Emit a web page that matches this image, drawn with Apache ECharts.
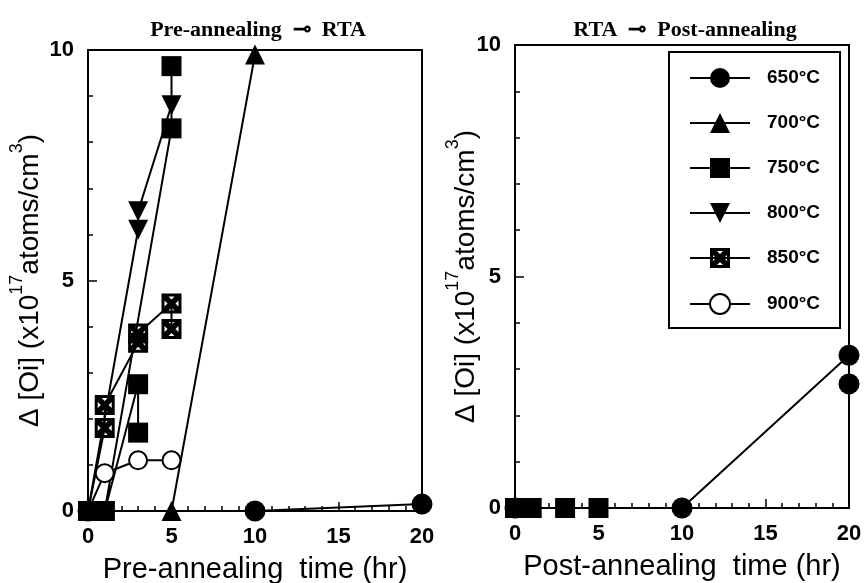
<!DOCTYPE html>
<html>
<head>
<meta charset="utf-8">
<title>Oi reduction vs annealing time</title>
<script src="https://cdn.jsdelivr.net/npm/echarts@6/dist/echarts.min.js"></script>
<style>
    html, body {margin: 0; padding: 0; background: #fff;}
    #main {width: 868px; height: 583px;}
</style>
</head>
<body>
<div id="main"></div>
<script type="text/javascript">
    var temps = ['650°C', '700°C', '750°C', '800°C', '850°C', '900°C'];
    var xTicks = [0, 5, 10, 15, 20];
    var yTicks = [0, 5, 10];

    // pre-annealing -> RTA  [time (hr), dOi (x1e17)]
    var pre650 = [[0, 0], [10, 0], [20, 0.15]];
    var pre700 = [[0, 0], [5, 0], [10, 9.9]];
    var pre750 = [[3, 1.7], [3, 2.75], [1, 0], [0, 0], [1, 0], [5, 8.3], [5, 9.65]];
    var pre800 = [[0, 0], [3, 6.1], [3, 6.5], [5, 8.8]];
    var pre850 = [[0, 0], [1, 1.8], [1, 2.3], [3, 3.65], [3, 3.85], [5, 4.5], [5, 3.95]];
    var pre900 = [[0, 0], [1, 0.82], [3, 1.1], [5, 1.1]];

    // RTA -> post-annealing
    var post650 = [[0, 0], [10, 0], [20, 3.3], [20, 2.68]];
    var post750 = [[0, 0], [0.5, 0], [1, 0], [3, 0], [5, 0]];

    var black = '#000';
    var font = '"Liberation Sans", Arial, sans-serif';
    var serif = '"Liberation Serif", "DejaVu Serif", serif';
    var crossBox = 'path://M0 0L20 0L20 20L0 20Z M3 3L3 17L17 17L17 3Z ' +
        'M3 3L7 3L17 13L17 17L13 17L3 7Z M17 3L17 7L7 17L3 17L3 13L13 3Z';

    var marks = {
        '650°C': {symbol: 'circle', size: 21},
        '700°C': {symbol: 'triangle', size: 20},
        '750°C': {symbol: 'rect', size: 20},
        '800°C': {symbol: 'triangle', size: 20, rotate: 180},
        '850°C': {symbol: crossBox, size: 20},
        '900°C': {symbol: 'emptyCircle', size: 18}
    };

    // the origin point is hidden under the black squares, so no symbol there
    function pts(arr, hideOrigin) {
        return arr.map(function (p) {
            if (hideOrigin && p[0] === 0 && p[1] === 0) {
                return {value: p, symbol: 'none'};
            }
            return p;
        });
    }

    function line(name, data, idx, hideOrigin) {
        var m = marks[name];
        return {
            name: name,
            type: 'line',
            xAxisIndex: idx,
            yAxisIndex: idx,
            data: pts(data, hideOrigin),
            symbol: m.symbol,
            symbolSize: m.size,
            symbolRotate: m.rotate || 0,
            symbolKeepAspect: true,
            color: black,
            lineStyle: {color: black, width: 2},
            itemStyle: {
                color: black,
                borderColor: black,
                borderWidth: m.symbol === 'emptyCircle' ? 2 : 0
            },
            animation: false
        };
    }

    function xAxis(idx, name) {
        return {
            type: 'value', gridIndex: idx,
            min: xTicks[0], max: xTicks[xTicks.length - 1], interval: 5,
            name: name, nameLocation: 'middle', nameGap: 44,
            nameTextStyle: {fontFamily: font, fontSize: 29, color: black},
            axisLine: {lineStyle: {color: black, width: 2}},
            axisTick: {inside: true, length: 9, lineStyle: {color: black, width: 1.5}},
            minorTick: {show: true, splitNumber: 5, length: 5, lineStyle: {color: black, width: 1.5}},
            axisLabel: {fontFamily: font, fontSize: 22, fontWeight: 'bold', color: black, margin: 15},
            splitLine: {show: false}
        };
    }

    function yAxis(idx, gap) {
        return {
            type: 'value', gridIndex: idx,
            min: yTicks[0], max: yTicks[yTicks.length - 1], interval: 5,
            name: '{t|Δ [Oi] (x10}{s|17}{t|atoms/cm}{s|3}{t|)}',
            nameLocation: 'middle', nameGap: gap,
            nameMoveOverlap: false,
            nameTextStyle: {
                rich: {
                    t: {fontFamily: font, fontSize: 28, color: black, lineHeight: 36, verticalAlign: 'bottom'},
                    s: {fontFamily: font, fontSize: 18, color: black, lineHeight: 36, verticalAlign: 'top'}
                }
            },
            axisLine: {lineStyle: {color: black, width: 2}},
            axisTick: {inside: true, length: 9, lineStyle: {color: black, width: 1.5}},
            minorTick: {show: true, splitNumber: 5, length: 5, lineStyle: {color: black, width: 1.5}},
            axisLabel: {fontFamily: font, fontSize: 22, fontWeight: 'bold', color: black, margin: 14},
            splitLine: {show: false}
        };
    }

    var myChart = echarts.init(document.getElementById('main'));
    myChart.setOption({
        backgroundColor: '#fff',
        animation: false,
        title: [
            {text: 'Pre-annealing  ⊸  RTA', left: 253, top: 14, textAlign: 'center',
                textStyle: {fontFamily: serif, fontSize: 22, fontWeight: 'bold', color: black}},
            {text: 'RTA  ⊸  Post-annealing', left: 680, top: 14, textAlign: 'center',
                textStyle: {fontFamily: serif, fontSize: 22, fontWeight: 'bold', color: black}}
        ],
        grid: [
            {left: 88, top: 50, width: 334, height: 461, show: true, borderColor: black, borderWidth: 2,
                outerBoundsMode: 'none'},
            {left: 515, top: 45, width: 334, height: 463, show: true, borderColor: black, borderWidth: 2,
                outerBoundsMode: 'none'}
        ],
        legend: {
            data: temps,
            orient: 'vertical',
            left: 669, top: 52,
            backgroundColor: '#fff',
            borderColor: black, borderWidth: 2, borderRadius: 0,
            padding: [16, 20, 13, 20],
            itemWidth: 60, itemHeight: 25, itemGap: 25,
            textStyle: {fontFamily: font, fontSize: 19, fontWeight: 'bold', color: black, padding: [0, 0, 0, 12]}
        },
        xAxis: [xAxis(0, 'Pre-annealing  time (hr)'), xAxis(1, 'Post-annealing  time (hr)')],
        yAxis: [yAxis(0, 44), yAxis(1, 35)],
        series: [
            line('650°C', pre650, 0, false),
            line('700°C', pre700, 0, false),
            line('750°C', pre750, 0, false),
            line('800°C', pre800, 0, true),
            line('850°C', pre850, 0, true),
            line('900°C', pre900, 0, true),
            line('650°C', post650, 1, false),
            line('750°C', post750, 1, false)
        ]
    });
</script>
</body>
</html>
